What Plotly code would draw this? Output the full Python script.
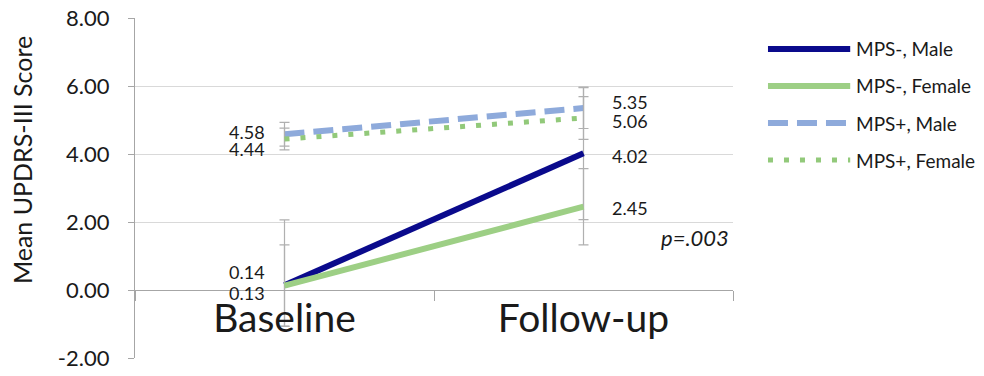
import plotly.graph_objects as go

# ---- data ----
categories = ["Baseline", "Follow-up"]
series_names = ["MPS-, Male", "MPS-, Female", "MPS+, Male", "MPS+, Female"]
mps_neg_male = [0.14, 4.02]
mps_neg_female = [0.13, 2.45]
mps_pos_male = [4.58, 5.35]
mps_pos_female = [4.44, 5.06]
err_plus_neg_male = [1.92, 1.95]
err_minus_neg_male = [1.20, 1.95]
err_neg_female = [1.20, 1.12]
err_pos_male = [0.35, 0.60]
err_pos_female = [0.32, 0.63]
y_ticks = [-2, 0, 2, 4, 6, 8]
y_tick_labels = ["-2.00", "0.00", "2.00", "4.00", "6.00", "8.00"]
y_title = "Mean UPDRS-III Score"
p_text = "p=.003"

FONT = "Lato, 'Liberation Sans', Arial, sans-serif"
TXT = "#1a1a1a"

styles = [
    dict(color="#0a0a8c", width=6, dash="solid"),
    dict(color="#9dcf85", width=6, dash="solid"),
    dict(color="#8eaadb", width=6, dash="20px,9px"),
    dict(color="#92c97a", width=5, dash="5px,11px"),
]
values = [mps_neg_male, mps_neg_female, mps_pos_male, mps_pos_female]
errors_plus = [err_plus_neg_male, err_neg_female, err_pos_male, err_pos_female]
errors_minus = [err_minus_neg_male, err_neg_female, err_pos_male, err_pos_female]

fig = go.Figure()
for name, vals, ep, em, st in zip(series_names, values, errors_plus, errors_minus, styles):
    fig.add_trace(go.Scatter(
        x=categories, y=vals, name=name, mode="lines",
        line=dict(color=st["color"], width=st["width"], dash=st["dash"]),
        error_y=dict(type="data", array=ep, arrayminus=em, symmetric=False,
                     visible=True, color="#b0b0b0", thickness=1.2, width=5),
        showlegend=False,
    ))

# data labels
label_cfg = [
    # (series index, yshift baseline, yshift follow-up)
    (0, 13, -3),
    (1, -7, -1),
    (2, 2, 6),
    (3, -10, -3),
]
for idx, ys0, ys1 in label_cfg:
    vals = values[idx]
    fig.add_annotation(x=categories[0], y=vals[0], text=f"{vals[0]:.2f}",
                       showarrow=False, xanchor="right", yanchor="middle",
                       xshift=-18, yshift=ys0,
                       font=dict(family=FONT, size=18, color=TXT))
    fig.add_annotation(x=categories[1], y=vals[1], text=f"{vals[1]:.2f}",
                       showarrow=False, xanchor="left", yanchor="middle",
                       xshift=26, yshift=ys1,
                       font=dict(family=FONT, size=18, color=TXT))

fig.add_annotation(xref="paper", x=1.0, y=1.53, text=f"<i>{p_text}</i>",
                   showarrow=False, xanchor="right", yanchor="middle", xshift=-2,
                   font=dict(family=FONT, size=22, color=TXT))

# y-axis title
fig.add_annotation(xref="paper", yref="paper", x=-0.189, y=0.582, text=y_title,
                   textangle=-90, showarrow=False, xanchor="center", yanchor="middle",
                   font=dict(family=FONT, size=25, color=TXT))

# manual legend (long line samples as in reference)
leg_y = [0.909, 0.8, 0.691, 0.582]
for name, st, ly in zip(series_names, styles, leg_y):
    fig.add_shape(type="line", xref="paper", yref="paper",
                  x0=1.0585, x1=1.196, y0=ly, y1=ly,
                  line=dict(color=st["color"], width=st["width"], dash=st["dash"]))
    fig.add_annotation(xref="paper", yref="paper", x=1.203, y=ly, text=name,
                       showarrow=False, xanchor="left", yanchor="middle",
                       font=dict(family=FONT, size=19, color=TXT))

fig.update_layout(
    width=984, height=376,
    margin=dict(l=135, r=251, t=18, b=18, autoexpand=False),
    paper_bgcolor="white", plot_bgcolor="white",
    font=dict(family=FONT, color=TXT),
    xaxis=dict(
        type="category", range=[-0.5, 1.5], anchor="free", position=0.2,
        automargin=False,
        showline=True, linecolor="#a6a6a6", linewidth=1.2,
        ticks="outside", ticklen=10, tickcolor="#a6a6a6", tickson="boundaries",
        ticklabelstandoff=-6,
        showgrid=False, tickfont=dict(family=FONT, size=39, color=TXT),
    ),
    yaxis=dict(
        range=[-2, 8], tickvals=y_ticks, ticktext=y_tick_labels, automargin=False,
        ticklabeloverflow="allow",
        showgrid=True, gridcolor="#d9d9d9", gridwidth=1,
        zeroline=False, showline=True, linecolor="#a6a6a6", linewidth=1.2,
        ticks="outside", ticklen=6, tickcolor="#a6a6a6",
        ticklabelstandoff=14,
        tickfont=dict(family=FONT, size=22, color=TXT),
    ),
)

# remove the page's default body margin so the figure sits at the window's top-left
fig.write_html("out.html",
               config={"displayModeBar": False},
               post_script="document.body.style.margin='0';document.body.style.overflow='hidden';")
